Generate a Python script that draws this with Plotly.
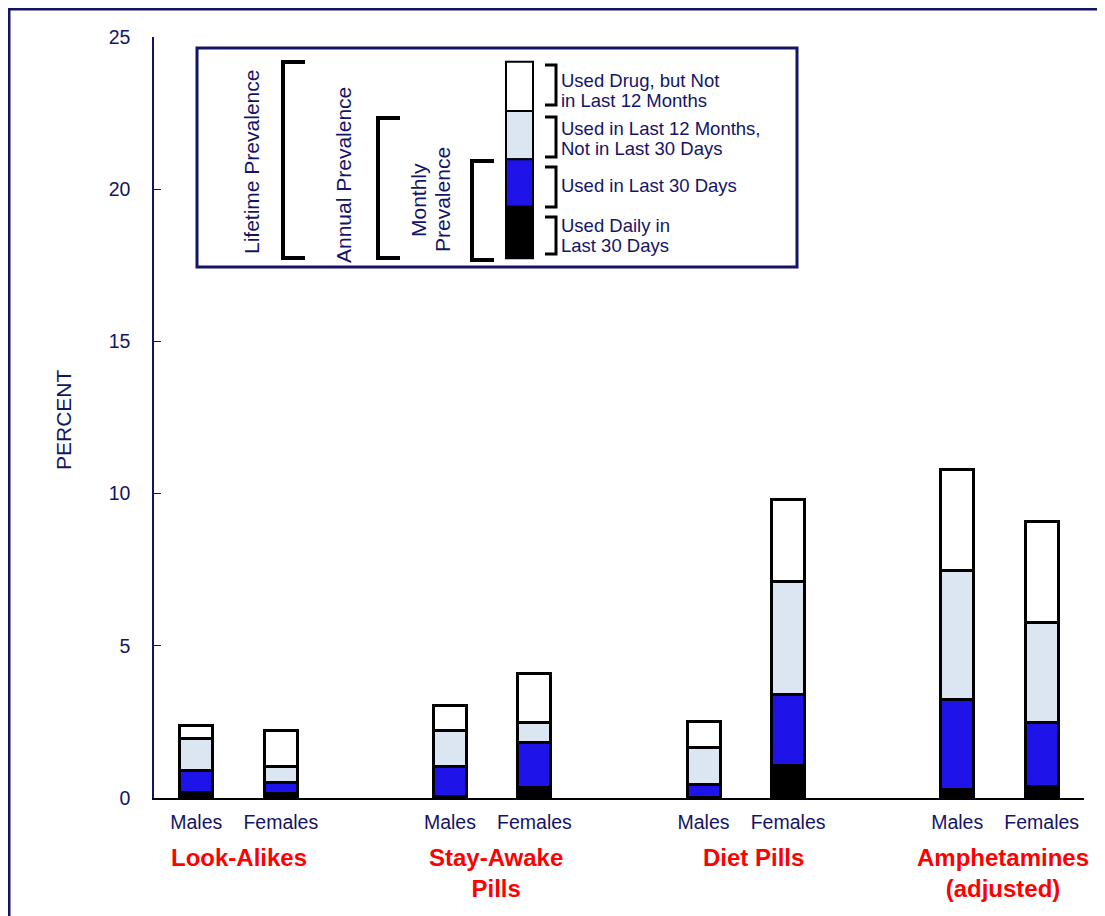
import plotly.graph_objects as go

# bar positions on a numeric axis (gap between the four drug groups)
positions = [0, 1, 3, 4, 6, 7, 9, 10]
sex_labels = ["Males", "Females"] * 4
groups = ["Look-Alikes", "Stay-Awake<br>Pills", "Diet Pills", "Amphetamines<br>(adjusted)"]
group_centers = [0.5, 3.5, 6.5, 9.5]

# cumulative prevalence (percent)
daily = [0.17, 0.15, 0.06, 0.35, 0.03, 1.06, 0.29, 0.37]
monthly = [0.92, 0.52, 1.03, 1.83, 0.45, 3.41, 3.22, 2.47]
annual = [1.96, 1.05, 2.23, 2.47, 1.65, 7.10, 7.49, 5.76]
lifetime = [2.37, 2.21, 3.05, 4.10, 2.52, 9.81, 10.80, 9.07]

y_ticks = [0, 5, 10, 15, 20, 25]

NAVY = "#141466"
BLUE = "#1e14ea"
LIGHT = "#dce6f2"
FONT = "Liberation Sans, Arial, sans-serif"

# page offset of the figure (body margin) and plot area in page pixels
OX, OY = 8, 8
L, R, T, B = 154, 1084, 37, 798


def px(x):
    return (x - L) / (R - L)


def py(y):
    return (B - y) / (B - T)


def seg(top, bottom):
    return [round(t - b, 3) for t, b in zip(top, bottom)]


fig = go.Figure()
layers = [
    ("Used Daily in Last 30 Days", daily, "black"),
    ("Used in Last 30 Days", seg(monthly, daily), BLUE),
    ("Used in Last 12 Months, Not in Last 30 Days", seg(annual, monthly), LIGHT),
    ("Used Drug, but Not in Last 12 Months", seg(lifetime, annual), "white"),
]
for name, vals, col in layers:
    fig.add_trace(go.Bar(x=positions, y=vals, name=name, width=0.39,
                         marker=dict(color=col, line=dict(color="black", width=3))))

shapes = []
annotations = []

# outer frame
shapes.append(dict(type="rect", xref="paper", yref="paper", x0=px(9), x1=px(1300),
                   y0=py(1100), y1=py(9), line=dict(color=NAVY, width=3)))

# legend box
shapes.append(dict(type="rect", xref="paper", yref="paper", x0=px(197), x1=px(797),
                   y0=py(267), y1=py(48), line=dict(color=NAVY, width=3), fillcolor="white"))

# legend colour column
col_bounds = [(61.7, 111, "white"), (111, 159.3, LIGHT), (159.3, 206.7, BLUE), (206.7, 258.3, "black")]
for top, bot, col in col_bounds:
    shapes.append(dict(type="rect", xref="paper", yref="paper", x0=px(506), x1=px(533),
                       y0=py(bot), y1=py(top), fillcolor=col, line=dict(color="black", width=2)))

# left brackets "["
for x0, x1, top, bot in [(283, 305, 62, 258), (378, 400, 118, 258), (472, 494, 161, 260)]:
    shapes.append(dict(type="path", xref="paper", yref="paper",
                       path="M {a},{t} L {b},{t} L {b},{d} L {a},{d}".format(
                           a=px(x1), b=px(x0), t=py(top), d=py(bot)),
                       line=dict(color="black", width=4)))

# right brackets "]"
for top, bot in [(65, 105), (117, 157), (167, 207), (217, 254)]:
    shapes.append(dict(type="path", xref="paper", yref="paper",
                       path="M {a},{t} L {b},{t} L {b},{d} L {a},{d}".format(
                           a=px(545), b=px(556), t=py(top), d=py(bot)),
                       line=dict(color="black", width=3)))

# legend texts
for txt, x, y in [("Lifetime Prevalence", 252, 162), ("Annual Prevalence", 344, 175),
                  ("Monthly", 418, 200), ("Prevalence", 442, 200)]:
    annotations.append(dict(text=txt, xref="paper", yref="paper", x=px(x), y=py(y),
                            textangle=-90, showarrow=False, xanchor="center", yanchor="middle",
                            font=dict(family=FONT, size=21, color=NAVY)))

for txt, y in [("Used Drug, but Not", 80.7), ("in Last 12 Months", 100.7),
               ("Used in Last 12 Months,", 128), ("Not in Last 30 Days", 148),
               ("Used in Last 30 Days", 185), ("Used Daily in", 225), ("Last 30 Days", 245)]:
    annotations.append(dict(text=txt, xref="paper", yref="paper", x=px(559), y=py(y),
                            showarrow=False, xanchor="left", yanchor="middle",
                            font=dict(family=FONT, size=18.5, color=NAVY)))

# group labels (slightly right of the pair centres, as in the original)
for g, c, sh in zip(groups, group_centers, [0, 4, 8, 4]):
    annotations.append(dict(text="<b>" + g + "</b>", x=c, xref="x", yref="paper", y=py(842),
                            xshift=sh, showarrow=False, xanchor="center", yanchor="top",
                            font=dict(family=FONT, size=24, color="#ff0000")))

# y title
annotations.append(dict(text="PERCENT", xref="paper", yref="paper", x=px(63), y=py(420),
                        textangle=-90, showarrow=False, xanchor="center", yanchor="middle",
                        font=dict(family=FONT, size=21, color=NAVY)))

fig.update_layout(
    barmode="stack",
    width=1105 - OX, height=916 - OY,
    margin=dict(l=L - OX, r=1105 - R, t=T - OY, b=916 - B, autoexpand=False),
    plot_bgcolor="white", paper_bgcolor="white",
    showlegend=False,
    shapes=shapes,
    annotations=annotations,
    xaxis=dict(range=[-0.5, 10.5], tickvals=positions, ticktext=sex_labels,
               showline=True, linecolor="black", linewidth=2, showgrid=False,
               zeroline=False, ticks="", ticklabelstandoff=6,
               tickfont=dict(family=FONT, size=19.5, color=NAVY)),
    yaxis=dict(range=[0, 25], tickvals=y_ticks, showline=True, linecolor=NAVY,
               linewidth=1.5, showgrid=False, zeroline=False, ticks="inside",
               ticklen=7, tickcolor=NAVY, ticklabelstandoff=18,
               tickfont=dict(family=FONT, size=19.5, color=NAVY)),
)

fig.write_html("out.html")
